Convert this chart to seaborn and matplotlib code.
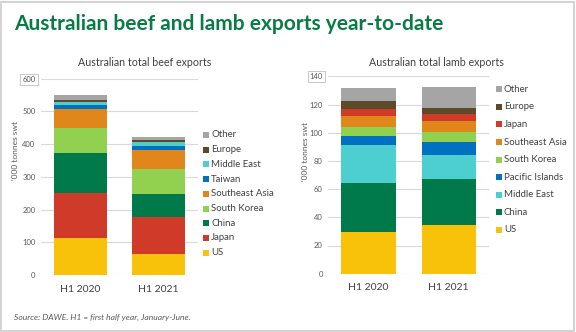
import matplotlib
matplotlib.use("Agg")
import matplotlib.pyplot as plt
import seaborn as sns
import pandas as pd
import numpy as np
from matplotlib.patches import Rectangle

sns.set_theme(style="white")
plt.rcParams['font.family'] = ['Lato', 'DejaVu Sans']

periods = ["H1 2020", "H1 2021"]

beef_regions = ["US", "Japan", "China", "South Korea", "Southeast Asia",
                "Taiwan", "Middle East", "Europe", "Other"]
beef_h1_2020 = [113, 137, 122, 77, 58, 13, 8.5, 7, 16]
beef_h1_2021 = [65, 111, 72, 77, 58, 10, 13, 6, 9]

lamb_regions = ["US", "China", "Middle East", "Pacific Islands", "South Korea",
                "Southeast Asia", "Japan", "Europe", "Other"]
lamb_h1_2020 = [29.3, 35.3, 27, 6.4, 6.1, 7.4, 5.2, 5.7, 9.4]
lamb_h1_2021 = [34.5, 32.4, 17.5, 9, 6.9, 8, 4.7, 4.5, 14.7]

colors = {
    "US": "#F9C20A", "Japan": "#D03A28", "China": "#007A4B",
    "South Korea": "#92D050", "Southeast Asia": "#E0861A",
    "Taiwan": "#0070C0", "Pacific Islands": "#0070C0",
    "Middle East": "#4ECFCF", "Europe": "#5C4A29", "Other": "#A5A5A5",
}

W, H = 576, 332
fig = plt.figure(figsize=(W / 100, H / 100), dpi=100)
fig.patch.set_facecolor("white")
fig.patches.append(Rectangle((1 / W, 1 / H), 1 - 3 / W, 1 - 3 / H, transform=fig.transFigure,
                             fill=False, edgecolor="#D4D4D4", linewidth=1.5))


def px_axes(left, top, right, bottom):
    return fig.add_axes([left / W, 1 - bottom / H, (right - left) / W, (bottom - top) / H])


def stacked(ax, regions, v20, v21, ymax, step, title, leg_x, leg_top, leg_bottom, title_x):
    df = pd.DataFrame({"region": np.repeat(regions, 2),
                       "period": periods * len(regions),
                       "value": np.ravel(np.column_stack([v20, v21]))})
    df["cum"] = df.groupby("period")["value"].cumsum()
    for r in reversed(regions):
        sub = df[df["region"] == r]
        sns.barplot(data=sub, x="period", y="cum", order=periods, color=colors[r],
                    width=0.675, linewidth=0, saturation=1, ax=ax, errorbar=None)
    ax.set_ylim(0, ymax)
    ax.set_xlim(-0.5, 1.5)
    ax.set_yticks(np.arange(0, ymax + 1, step))
    ax.yaxis.grid(True, color="#D9D9D9", linewidth=0.8)
    ax.set_axisbelow(True)
    for s in ax.spines.values():
        s.set_visible(False)
    ax.set_xlabel("")
    ax.set_ylabel("")
    ax.tick_params(axis="y", labelsize=5.5, labelcolor="#595959", length=0, pad=4)
    ax.tick_params(axis="x", labelsize=7.5, labelcolor="#404040", length=0, pad=7)
    labels = ax.get_yticklabels()
    labels[-1].set_bbox(dict(facecolor="white", edgecolor="#BFBFBF", linewidth=0.6, pad=1.5))
    fig.text(title_x / W, 1 - 62 / H, title, ha="center", va="center", fontsize=7.7, color="#404040")
    n = len(regions)
    spacing = (leg_bottom - leg_top) / (n - 1)
    for i, r in enumerate(reversed(regions)):
        y = leg_top + i * spacing
        fig.patches.append(Rectangle(((leg_x - 3) / W, 1 - (y + 3) / H), 6 / W, 6 / H,
                                     transform=fig.transFigure, facecolor=colors[r], edgecolor="none"))
        fig.text((leg_x + 5) / W, 1 - y / H, r, ha="left", va="center", fontsize=6.9, color="#404040")


ax1 = px_axes(41, 78.7, 198, 275)
stacked(ax1, beef_regions, beef_h1_2020, beef_h1_2021, 600, 100,
        "Australian total beef exports", 206, 135, 252.7, 145)
ax2 = px_axes(328.4, 76.3, 488.8, 273.7)
stacked(ax2, lamb_regions, lamb_h1_2020, lamb_h1_2021, 140, 20,
        "Australian total lamb exports", 499, 89.3, 230, 436)

fig.text(16 / W, 1 - 151 / H, "'000 tonnes swt", rotation=90, ha="center", va="center",
         fontsize=6, color="#595959")
fig.text(305 / W, 1 - 152 / H, "'000 tonnes swt", rotation=90, ha="center", va="center",
         fontsize=6, color="#595959")

fig.text(14 / W, 1 - 24 / H, "Australian beef and lamb exports year-to-date",
         ha="left", va="center", fontsize=15, fontweight="bold", color="#0A7B45")
fig.text(14 / W, 1 - 317 / H, "Source: DAWE. H1 = first half year, January-June.",
         ha="left", va="center", fontsize=6.1, style="italic", color="#595959")

fig.savefig("out.png", dpi=100, facecolor="white")
